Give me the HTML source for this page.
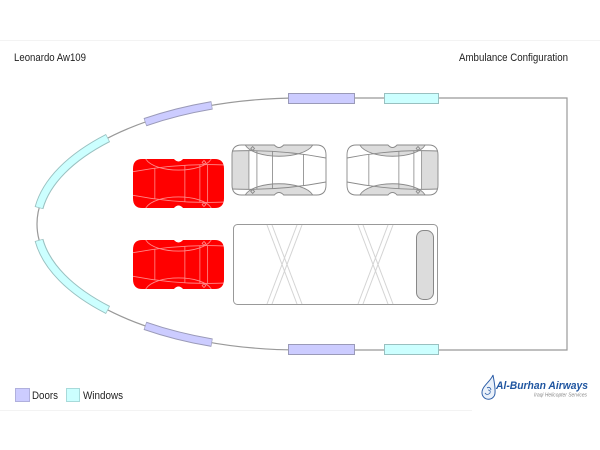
<!DOCTYPE html>
<html>
<head>
<meta charset="utf-8">
<style>
  html,body{margin:0;padding:0;background:#fff;}
  svg{display:block;}
  text{font-family:"Liberation Sans", Arial, sans-serif;}
</style>
</head>
<body>
<svg width="600" height="450" viewBox="0 0 600 450" xmlns="http://www.w3.org/2000/svg">
  <defs>
    <path id="so" d="M10,0 L45,0 Q50,5 55,0 L90,0 Q100,0 100,10 L100,40 Q100,50 90,50 L55,50 Q50,45 45,50 L10,50 Q0,50 0,40 L0,10 Q0,0 10,0 Z"/>
    <clipPath id="sc"><use href="#so"/></clipPath>
    <g id="sl" fill="none">
      <path d="M14,0 C24,15 76,15 86,0"/>
      <path d="M14,50 C24,35 76,35 86,50"/>
      <path d="M0,13 Q50,4 100,6"/>
      <path d="M0,37 Q50,46 100,44"/>
      <path d="M24,9.3 V40.7 M57,6.3 V43.7 M73.5,5.7 V44.3 M82,5.6 V44.4"/>
      <path d="M78,1.5 L80,3.5 L78,5.5 L76,3.5 Z"/>
      <path d="M78,44.5 L80,46.5 L78,48.5 L76,46.5 Z"/>
    </g>
    <g id="redseat">
      <use href="#so" fill="#ff0000"/>
      <g clip-path="url(#sc)" stroke="#ff8a8a" stroke-width="0.9"><use href="#sl"/></g>
    </g>
    <g id="grayseat">
      <use href="#so" fill="#ffffff"/>
      <g clip-path="url(#sc)">
        <path d="M14,0 C24,15 76,15 86,0 Z" fill="#dcdcdc"/>
        <path d="M14,50 C24,35 76,35 86,50 Z" fill="#dcdcdc"/>
        <path d="M82,5.6 Q91,5.5 100,6 L100,44 Q91,44.5 82,44.4 Z" fill="#dcdcdc"/>
        <g stroke="#8a8a8a" stroke-width="0.9"><use href="#sl"/></g>
      </g>
      <use href="#so" fill="none" stroke="#8a8a8a" stroke-width="1"/>
    </g>
  </defs>

  <!-- faint separators -->
  <line x1="0" y1="40.5" x2="600" y2="40.5" stroke="#f3f3f3" stroke-width="1"/>
  <line x1="0" y1="410.5" x2="472" y2="410.5" stroke="#f3f3f3" stroke-width="1"/>

  <!-- titles -->
  <text x="14" y="61" font-size="11" fill="#222" textLength="72" lengthAdjust="spacingAndGlyphs">Leonardo Aw109</text>
  <text x="459" y="61" font-size="11" fill="#222" textLength="109" lengthAdjust="spacingAndGlyphs">Ambulance Configuration</text>

  <!-- fuselage outline -->
  <path d="M567,98 L300,98 A263,126 0 0 0 300,350 L567,350 Z" fill="none" stroke="#999" stroke-width="1.2"/>

  <!-- curved doors -->
  <g fill="none">
    <path d="M145,122.2 A263,126 0 0 1 212,105.3" stroke="#9a9ab8" stroke-width="8.5"/>
    <path d="M145.6,122 A263,126 0 0 1 211.4,105.4" stroke="#ccccff" stroke-width="6.5"/>
    <path d="M145,325.8 A263,126 0 0 0 212,342.7" stroke="#9a9ab8" stroke-width="8.5"/>
    <path d="M145.6,326 A263,126 0 0 0 211.4,342.6" stroke="#ccccff" stroke-width="6.5"/>
    <!-- curved windows -->
    <path d="M39,208 A263,126 0 0 1 108,138" stroke="#99c0c0" stroke-width="9"/>
    <path d="M39.1,207.3 A263,126 0 0 1 107.4,138.3" stroke="#ccffff" stroke-width="7"/>
    <path d="M39,240 A263,126 0 0 0 108,310" stroke="#99c0c0" stroke-width="9"/>
    <path d="M39.1,240.7 A263,126 0 0 0 107.4,309.7" stroke="#ccffff" stroke-width="7"/>
  </g>

  <!-- straight doors/windows -->
  <rect x="288.5" y="93.5" width="66" height="10" fill="#ccccff" stroke="#9a9ab8" stroke-width="1"/>
  <rect x="384.5" y="93.5" width="54" height="10" fill="#ccffff" stroke="#99c0c0" stroke-width="1"/>
  <rect x="288.5" y="344.5" width="66" height="10" fill="#ccccff" stroke="#9a9ab8" stroke-width="1"/>
  <rect x="384.5" y="344.5" width="54" height="10" fill="#ccffff" stroke="#99c0c0" stroke-width="1"/>

  <!-- red seats -->
  <use href="#redseat" transform="translate(133,159) scale(0.91,0.98)"/>
  <use href="#redseat" transform="translate(133,240) scale(0.91,0.98)"/>

  <!-- gray seats -->
  <use href="#grayseat" transform="translate(326,145) scale(-0.94,1.0)"/>
  <use href="#grayseat" transform="translate(347,145) scale(0.91,1.0)"/>

  <!-- stretcher -->
  <rect x="233.5" y="224.5" width="204" height="80" rx="4" fill="#fff" stroke="#999" stroke-width="1"/>
  <g stroke="#d4d4d4" stroke-width="1" fill="none">
    <line x1="267" y1="225" x2="297" y2="304"/>
    <line x1="272" y1="225" x2="302" y2="304"/>
    <line x1="297" y1="225" x2="267" y2="304"/>
    <line x1="302" y1="225" x2="272" y2="304"/>
    <line x1="358" y1="225" x2="388" y2="304"/>
    <line x1="363" y1="225" x2="393" y2="304"/>
    <line x1="388" y1="225" x2="358" y2="304"/>
    <line x1="393" y1="225" x2="363" y2="304"/>
  </g>
  <rect x="416.5" y="230.5" width="17" height="69" rx="7" fill="#dcdcdc" stroke="#888" stroke-width="1"/>

  <!-- legend -->
  <rect x="15.5" y="388.5" width="14" height="13" fill="#ccccff" stroke="#b0b0dd" stroke-width="1"/>
  <text x="32" y="399" font-size="11" fill="#222" textLength="26" lengthAdjust="spacingAndGlyphs">Doors</text>
  <rect x="66.5" y="388.5" width="13" height="13" fill="#ccffff" stroke="#a8dada" stroke-width="1"/>
  <text x="83" y="399" font-size="11" fill="#222" textLength="40" lengthAdjust="spacingAndGlyphs">Windows</text>

  <!-- logo -->
  <path d="M493,375 C491,381 482,386 482,392.5 A6.5,6.5 0 0 0 495,393 C495.5,387 494,381 493,375 Z" fill="#eaf1fa" stroke="#2f5fa8" stroke-width="1"/>
  <path d="M485,393 q2,3 5,0 q1,-3 -2,-3 M487,388 q3,-2 4,2" fill="none" stroke="#2f5fa8" stroke-width="0.8"/>
  <text x="496" y="389" font-size="11" font-weight="bold" font-style="italic" fill="#1f55a0" textLength="92" lengthAdjust="spacingAndGlyphs">Al-Burhan Airways</text>
  <text x="534" y="396.5" font-size="5" font-style="italic" fill="#888" textLength="53" lengthAdjust="spacingAndGlyphs">Iraqi Helicopter Services</text>
</svg>
</body>
</html>
